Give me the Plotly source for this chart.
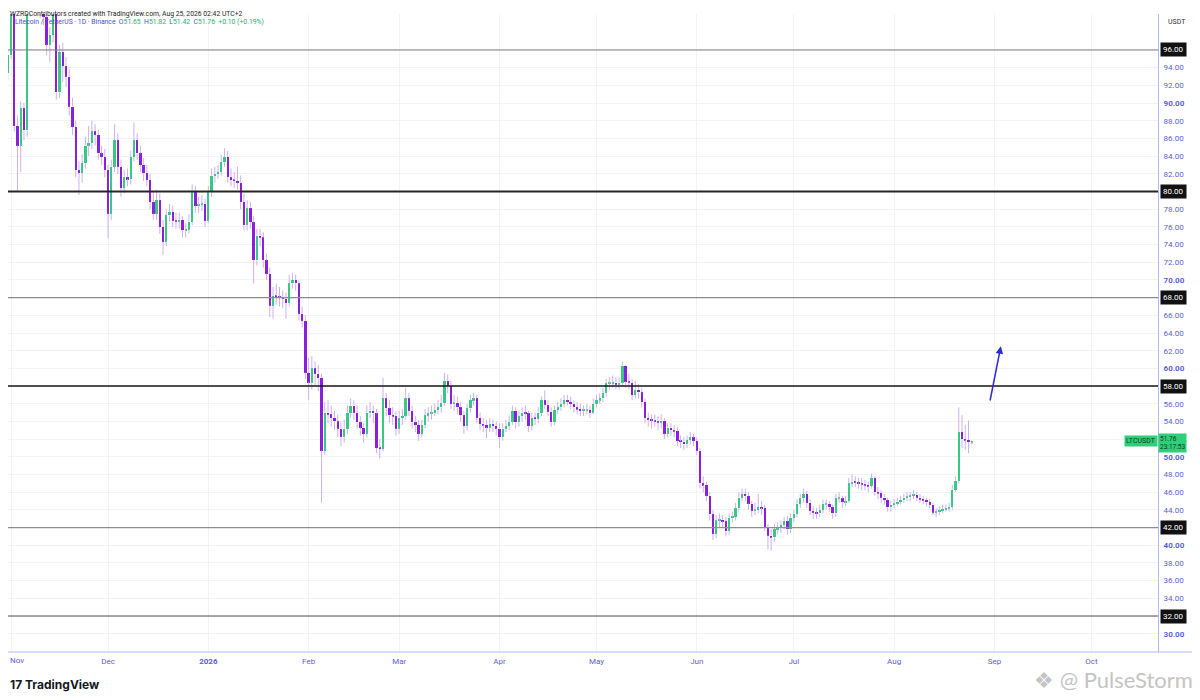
import pandas as pd
import plotly.graph_objects as go

# LTC/USDT daily candles (Oct 31 2025 -> Aug 25 2026)
start_date = "2025-10-31"

opens = [
    93.4,
    # Nov
    95.4, 100.6, 87.4, 85.2, 89.4, 86.9, 100.8, 103.2, 104.4, 102.0,
    101.2, 99.7, 96.6, 97.7, 100.6, 91.2, 95.8, 94.2, 93.0, 89.6,
    87.3, 82.4, 82.1, 83.2, 85.2, 85.5, 86.8, 86.4, 84.3, 83.9,
    # Dec
    82.4, 77.5, 82.8, 85.8, 82.8, 80.4, 81.6, 81.4, 83.9, 85.8,
    84.3, 83.0, 82.1, 81.3, 78.8, 77.5, 79.0, 76.0, 74.3, 77.3,
    77.7, 76.7, 76.6, 76.8, 75.6, 75.7, 76.6, 80.1, 78.4, 78.5, 78.6,
    # Jan
    76.7, 79.9, 81.8, 82.0, 82.2, 83.3, 83.9, 81.6, 81.3, 81.2,
    81.0, 78.8, 76.2, 78.1, 76.5, 72.2, 75.0, 74.8, 72.2, 70.7,
    67.1, 68.2, 68.1, 68.0, 67.9, 67.4, 69.6, 70.0, 69.6, 66.2, 65.4,
    # Feb
    59.5, 58.4, 60.0, 59.4, 58.9, 50.7, 55.0, 54.8, 54.4, 54.0,
    53.2, 52.2, 53.2, 55.0, 55.8, 55.0, 53.9, 53.3, 52.6, 55.0,
    55.2, 54.9, 51.0, 50.9, 56.6, 55.5, 54.7, 54.6,
    # Mar
    53.2, 54.4, 54.6, 56.6, 55.2, 53.9, 53.6, 52.6, 53.6, 54.7,
    54.9, 55.0, 55.3, 55.6, 56.1, 58.6, 58.0, 56.0, 56.1, 55.6,
    54.7, 53.5, 55.5, 56.4, 56.6, 54.4, 53.7, 53.6, 53.3, 53.7, 53.5,
    # Apr
    53.2, 52.2, 53.2, 53.5, 53.9, 55.2, 53.9, 54.6, 55.0, 54.9,
    53.5, 54.4, 54.3, 55.0, 56.4, 55.9, 55.1, 53.9, 55.3, 55.6,
    56.0, 56.4, 56.2, 56.0, 55.6, 55.4, 55.2, 55.3, 55.3, 55.0,
    # May
    56.0, 56.4, 56.6, 57.2, 58.3, 58.3, 58.4, 58.2, 58.4, 60.3,
    58.5, 58.4, 57.0, 57.6, 57.3, 56.2, 54.4, 54.2, 54.1, 54.0,
    53.9, 54.1, 52.6, 53.3, 53.0, 52.9, 51.8, 51.7, 51.4, 51.9, 52.2,
    # Jun
    51.8, 50.7, 47.0, 46.8, 45.6, 43.5, 41.3, 42.8, 42.9, 42.7,
    41.6, 43.1, 43.2, 44.2, 45.4, 45.8, 45.6, 44.7, 43.9, 44.0,
    44.3, 44.2, 42.0, 41.1, 40.9, 41.8, 41.9, 42.3, 42.7, 41.8,
    # Jul
    43.1, 43.5, 44.7, 45.3, 45.8, 44.8, 43.9, 43.7, 43.6, 44.0,
    44.7, 44.7, 44.3, 43.6, 45.3, 45.3, 44.9, 45.0, 47.0, 47.2,
    47.1, 47.0, 46.9, 46.8, 46.7, 47.6, 46.0, 45.9, 45.4, 45.1, 44.3,
    # Aug
    44.6, 44.7, 44.9, 45.1, 45.4, 45.5, 45.6, 45.7, 45.4, 45.2,
    45.1, 44.9, 44.6, 43.7, 43.8, 43.9, 44.1, 44.2, 44.3, 46.3,
    47.3, 52.8, 52.0, 51.9, 51.65,
]

highs = [
    96.0,
    # Nov
    101.5, 101.8, 88.6, 90.2, 90.0, 101.6, 104.6, 106.0, 105.0, 103.0,
    101.8, 100.4, 98.6, 101.2, 101.0, 96.6, 96.8, 95.2, 93.8, 90.6,
    88.0, 83.4, 84.2, 86.2, 87.4, 88.0, 87.6, 87.0, 85.2, 84.8,
    # Dec
    83.0, 83.6, 87.6, 86.6, 83.6, 82.4, 82.6, 84.6, 87.8, 86.6,
    85.2, 83.8, 83.0, 82.0, 80.0, 80.2, 79.8, 76.8, 78.0, 78.6,
    78.4, 77.6, 77.6, 77.2, 76.4, 77.4, 80.8, 80.6, 79.4, 79.6, 79.2,
    # Jan
    80.6, 82.6, 82.8, 83.0, 84.2, 84.9, 84.6, 82.6, 82.2, 82.8,
    81.8, 79.8, 79.0, 78.8, 77.2, 75.8, 75.8, 75.4, 73.0, 71.4,
    69.2, 69.6, 69.2, 68.8, 68.6, 70.6, 70.8, 70.6, 70.0, 67.0, 66.0,
    # Feb
    61.2, 61.4, 60.8, 60.4, 59.4, 56.2, 56.4, 55.8, 55.2, 54.8,
    54.0, 54.2, 55.8, 56.6, 56.4, 55.8, 54.6, 53.8, 55.8, 56.2,
    55.8, 55.4, 52.0, 58.9, 57.2, 56.4, 55.6, 55.2,
    # Mar
    55.2, 55.4, 57.8, 57.2, 55.8, 54.6, 54.2, 54.2, 55.4, 55.6,
    55.8, 56.0, 56.4, 57.0, 59.5, 59.3, 58.6, 57.0, 56.8, 56.2,
    55.2, 56.0, 57.0, 57.2, 57.0, 55.0, 54.4, 54.2, 54.4, 54.2, 54.0,
    # Apr
    53.8, 53.8, 54.2, 54.6, 55.8, 55.6, 55.2, 55.6, 55.8, 55.2,
    55.0, 55.0, 55.6, 56.8, 57.5, 56.4, 55.6, 55.8, 56.2, 56.6,
    57.0, 57.0, 56.8, 56.4, 56.2, 56.0, 55.8, 56.0, 55.8, 56.6,
    # May
    57.0, 57.2, 57.8, 58.8, 59.0, 59.2, 59.0, 59.0, 60.7, 60.4,
    59.4, 58.8, 58.6, 58.2, 57.8, 56.6, 55.0, 54.8, 54.8, 54.6,
    54.8, 54.4, 53.8, 53.8, 53.6, 53.4, 52.4, 52.2, 52.4, 52.8, 52.6,
    # Jun
    52.2, 51.0, 47.8, 47.2, 46.0, 44.0, 43.4, 43.6, 43.4, 43.2,
    43.6, 43.8, 44.8, 46.0, 46.4, 46.4, 46.0, 45.0, 44.8, 45.8,
    45.0, 44.6, 42.4, 41.8, 42.4, 42.6, 42.8, 43.2, 43.3, 43.6,
    # Jul
    44.0, 45.2, 45.8, 46.4, 46.2, 45.2, 44.4, 44.2, 44.6, 45.2,
    45.2, 45.0, 44.6, 45.8, 46.0, 45.6, 45.6, 47.6, 48.0, 47.8,
    47.6, 47.6, 47.4, 47.2, 48.1, 47.8, 46.6, 46.2, 45.8, 45.4, 45.0,
    # Aug
    45.2, 45.4, 45.6, 45.8, 46.0, 46.0, 46.2, 46.0, 45.8, 45.6,
    45.4, 45.2, 44.8, 44.2, 44.4, 44.6, 44.6, 44.8, 46.8, 47.8,
    55.6, 54.7, 53.6, 54.1, 51.82,
]

lows = [
    92.6,
    # Nov
    95.0, 86.8, 80.0, 82.2, 85.8, 86.2, 99.8, 102.0, 101.0, 99.6,
    98.8, 95.4, 94.6, 96.9, 90.4, 90.6, 92.4, 91.8, 88.6, 86.4,
    81.6, 79.6, 81.0, 82.6, 84.0, 84.8, 85.2, 83.6, 83.0, 81.6,
    # Dec
    74.7, 76.8, 82.2, 82.0, 79.4, 79.8, 80.6, 80.8, 83.4, 83.6,
    82.2, 81.2, 80.6, 78.0, 76.8, 76.8, 75.2, 72.8, 73.8, 76.6,
    76.0, 75.8, 75.8, 74.8, 74.8, 75.2, 76.2, 77.6, 77.6, 77.8, 76.0,
    # Jan
    76.4, 79.4, 81.0, 81.4, 81.8, 82.8, 81.0, 80.6, 80.4, 80.2,
    78.0, 75.6, 75.6, 75.8, 69.6, 71.6, 73.8, 71.4, 70.0, 65.8,
    65.6, 67.2, 67.0, 66.8, 65.6, 67.0, 69.0, 68.8, 65.4, 64.6, 58.8,
    # Feb
    56.4, 57.6, 58.0, 57.4, 44.8, 50.2, 53.8, 53.4, 53.0, 52.2,
    51.2, 51.6, 52.6, 54.4, 54.2, 53.2, 52.4, 51.6, 52.2, 54.4,
    53.8, 50.4, 49.8, 50.6, 54.6, 53.8, 53.6, 52.4,
    # Mar
    52.6, 53.6, 54.2, 54.6, 53.2, 52.8, 51.8, 52.2, 53.2, 54.0,
    54.2, 54.6, 54.8, 55.0, 55.8, 57.2, 55.4, 55.2, 54.8, 54.0,
    52.6, 53.0, 55.0, 55.8, 53.8, 53.0, 52.8, 52.1, 52.8, 52.8, 52.4,
    # Apr
    51.0, 51.8, 52.8, 53.0, 53.6, 53.2, 53.4, 54.0, 54.2, 52.8,
    53.0, 53.6, 53.8, 54.6, 55.4, 54.6, 53.4, 53.6, 54.8, 55.2,
    55.6, 55.8, 55.4, 55.0, 54.8, 54.6, 54.6, 54.8, 54.4, 54.8,
    # May
    55.6, 56.0, 56.2, 56.8, 57.6, 57.8, 57.6, 57.6, 58.0, 57.8,
    57.6, 56.4, 56.6, 56.6, 55.6, 53.8, 53.4, 53.2, 53.4, 53.0,
    53.2, 52.0, 52.2, 52.4, 52.2, 51.2, 51.0, 50.8, 51.0, 51.4, 51.2,
    # Jun
    50.2, 46.4, 46.0, 45.0, 42.8, 40.6, 40.8, 42.0, 42.0, 41.0,
    41.2, 42.6, 42.8, 43.8, 45.0, 45.0, 44.0, 43.2, 43.4, 43.6,
    43.4, 41.6, 39.5, 39.4, 40.4, 41.2, 41.4, 41.8, 41.2, 41.4,
    # Jul
    42.6, 43.2, 44.2, 44.8, 44.2, 43.4, 43.0, 43.0, 43.2, 43.6,
    44.0, 43.8, 43.0, 43.2, 44.8, 44.2, 44.4, 44.8, 46.6, 46.6,
    46.4, 46.2, 46.2, 46.0, 46.4, 45.6, 45.2, 44.8, 44.6, 43.8, 43.8,
    # Aug
    44.2, 44.4, 44.6, 44.8, 45.0, 45.0, 45.2, 45.0, 44.8, 44.6,
    44.4, 44.2, 43.4, 43.2, 43.4, 43.6, 43.8, 43.8, 44.0, 46.0,
    47.0, 51.0, 50.8, 50.4, 51.42,
]

closes = [
    95.4,
    # Nov
    100.6, 87.4, 85.2, 89.4, 86.9, 100.8, 103.2, 104.4, 102.0, 101.2,
    99.7, 96.6, 97.7, 100.6, 91.2, 95.8, 94.2, 93.0, 89.6, 87.3,
    82.4, 82.1, 83.2, 85.2, 85.5, 86.8, 86.4, 84.3, 83.9, 82.4,
    # Dec
    77.5, 82.8, 85.8, 82.8, 80.4, 81.6, 81.4, 83.9, 85.8, 84.3,
    83.0, 82.1, 81.3, 78.8, 77.5, 79.0, 76.0, 74.3, 77.3, 77.7,
    76.7, 76.6, 76.8, 75.6, 75.7, 76.6, 80.1, 78.4, 78.5, 78.6, 76.7,
    # Jan
    79.9, 81.8, 82.0, 82.2, 83.3, 83.9, 81.6, 81.3, 81.2, 81.0,
    78.8, 76.2, 78.1, 76.5, 72.2, 75.0, 74.8, 72.2, 70.7, 67.1,
    68.2, 68.1, 68.0, 67.9, 67.4, 69.6, 70.0, 69.6, 66.2, 65.4, 59.5,
    # Feb
    58.4, 60.0, 59.4, 58.9, 50.7, 55.0, 54.8, 54.4, 54.0, 53.2,
    52.2, 53.2, 55.0, 55.8, 55.0, 53.9, 53.3, 52.6, 55.0, 55.2,
    54.9, 51.0, 50.9, 56.6, 55.5, 54.7, 54.6, 53.2,
    # Mar
    54.4, 54.6, 56.6, 55.2, 53.9, 53.6, 52.6, 53.6, 54.7, 54.9,
    55.0, 55.3, 55.6, 56.1, 58.6, 58.0, 56.0, 56.1, 55.6, 54.7,
    53.5, 55.5, 56.4, 56.6, 54.4, 53.7, 53.6, 53.3, 53.7, 53.5, 53.2,
    # Apr
    52.2, 53.2, 53.5, 53.9, 55.2, 53.9, 54.6, 55.0, 54.9, 53.5,
    54.4, 54.3, 55.0, 56.4, 55.9, 55.1, 53.9, 55.3, 55.6, 56.0,
    56.4, 56.2, 56.0, 55.6, 55.4, 55.2, 55.3, 55.3, 55.0, 56.0,
    # May
    56.4, 56.6, 57.2, 58.3, 58.3, 58.4, 58.2, 58.4, 60.3, 58.5,
    58.4, 57.0, 57.6, 57.3, 56.2, 54.4, 54.2, 54.1, 54.0, 53.9,
    54.1, 52.6, 53.3, 53.0, 52.9, 51.8, 51.7, 51.4, 51.9, 52.2, 51.8,
    # Jun
    50.7, 47.0, 46.8, 45.6, 43.5, 41.3, 42.8, 42.9, 42.7, 41.6,
    43.1, 43.2, 44.2, 45.4, 45.8, 45.6, 44.7, 43.9, 44.0, 44.3,
    44.2, 42.0, 41.1, 40.9, 41.8, 41.9, 42.3, 42.7, 41.8, 43.1,
    # Jul
    43.5, 44.7, 45.3, 45.8, 44.8, 43.9, 43.7, 43.6, 44.0, 44.7,
    44.7, 44.3, 43.6, 45.3, 45.3, 44.9, 45.0, 47.0, 47.2, 47.1,
    47.0, 46.9, 46.8, 46.7, 47.6, 46.0, 45.9, 45.4, 45.1, 44.3, 44.6,
    # Aug
    44.7, 44.9, 45.1, 45.4, 45.5, 45.6, 45.7, 45.4, 45.2, 45.1,
    44.9, 44.6, 43.7, 43.8, 43.9, 44.1, 44.2, 44.3, 46.3, 47.3,
    52.8, 52.0, 51.9, 51.66, 51.76,
]

# horizontal levels drawn on the chart
levels = [96, 80, 68, 58, 42, 32]

month_ticks = ["2025-11-01", "2025-12-01", "2026-01-01", "2026-02-01", "2026-03-01",
               "2026-04-01", "2026-05-01", "2026-06-01", "2026-07-01", "2026-08-01",
               "2026-09-01", "2026-10-01"]
month_labels = ["Nov", "Dec", "<b>2026</b>", "Feb", "Mar", "Apr", "May", "Jun",
                "Jul", "Aug", "Sep", "Oct"]
price_ticks = list(range(30, 98, 2))

assert len(opens) == len(highs) == len(lows) == len(closes)

# styling
UP = "#35c981"
DOWN = "#8a1fe0"
WICK = "#cdb0ee"
AXIS_TXT = "#5a5fd6"
GRID = "#f2f2f7"
TAG = "#2ecf78"
level_style = {96: ("#7d7d7d", 1), 80: ("#262626", 2), 68: ("#8a8a8a", 1.3),
               58: ("#161616", 1.6), 42: ("#8e8e8e", 1.3), 32: ("#505050", 1)}

dates = pd.date_range(start_date, periods=len(closes), freq="D")

# wicks: only the parts outside the body
wick_x, wick_y = [], []
body_base, body_len, body_col = [], [], []
for d, o, h, l, c in zip(dates, opens, highs, lows, closes):
    top, bot = max(o, c), min(o, c)
    wick_x += [d, d, None, d, d, None]
    wick_y += [l, bot, None, top, h, None]
    size = max(top - bot, 0.12)
    body_base.append((top + bot) / 2 - size / 2)
    body_len.append(size)
    body_col.append(UP if c >= o else DOWN)

fig = go.Figure()
fig.add_trace(go.Scatter(x=wick_x, y=wick_y, mode="lines",
                         line=dict(color=WICK, width=1), hoverinfo="skip"))
fig.add_trace(go.Bar(x=dates, y=body_len, base=body_base,
                     marker=dict(color=body_col, line=dict(width=0)),
                     width=0.72 * 86400000))

for lv in levels:
    col, w = level_style[lv]
    fig.add_shape(type="line", xref="paper", x0=0, x1=1, yref="y", y0=lv, y1=lv,
                  line=dict(color=col, width=w), layer="above")
    fig.add_annotation(xref="paper", x=1.0, xanchor="left", yref="y", y=lv,
                       text=f"{lv:.2f}", showarrow=False, bgcolor="#111111",
                       font=dict(color="white", size=8), borderpad=2, xshift=2)

# drawn arrow
fig.add_annotation(x="2026-09-03 00:00", y=62.5, ax="2026-08-30 14:00", ay=56.2,
                   xref="x", yref="y", axref="x", ayref="y", showarrow=True,
                   arrowhead=2, arrowsize=1, arrowwidth=1.5, arrowcolor="#2a2ad2", text="")

# price tag of the last close
last_close = closes[-1]
fig.add_annotation(xref="paper", x=1.0, xanchor="right", yref="y", y=last_close,
                   text="LTCUSDT", showarrow=False, bgcolor=TAG,
                   font=dict(color="#0f3a22", size=7), borderpad=1)
fig.add_annotation(xref="paper", x=1.0, xanchor="left", yref="y", y=last_close - 0.2,
                   text=f"{last_close:.2f}<br>23:17:53", showarrow=False, bgcolor=TAG,
                   font=dict(color="#0f3a22", size=6.5), align="left", borderpad=1)

# header texts
fig.add_annotation(xref="paper", yref="paper", x=0, y=1.0094, xanchor="left", yanchor="top",
                   text="WZRDContributors created with TradingView.com, Aug 25, 2026 02:42 UTC+2",
                   showarrow=False, font=dict(color="#1e1e24", size=6.8))
chg = closes[-1] - closes[-2]
g = "#22b06a"
legend = (f"Litecoin / TetherUS · 1D · Binance  "
          f"O<span style='color:{g}'>{opens[-1]:.2f}</span>  "
          f"H<span style='color:{g}'>{highs[-1]:.2f}</span>  "
          f"L<span style='color:{g}'>{lows[-1]:.2f}</span>  "
          f"C<span style='color:{g}'>{closes[-1]:.2f}</span>  "
          f"<span style='color:{g}'>+{chg:.2f} (+{chg / closes[-2] * 100:.2f}%)</span>")
fig.add_annotation(xref="paper", yref="paper", x=0.004, y=0.9875, xanchor="left", yanchor="middle",
                   text=legend, showarrow=False, font=dict(color="#4a4fd4", size=6.8))
fig.add_annotation(xref="paper", yref="paper", x=1.0, y=0.9875, xanchor="left", yanchor="middle",
                   text="USDT", showarrow=False, xshift=8, font=dict(color="#333", size=7))

# first month label sits right at the left edge
fig.add_annotation(xref="paper", yref="paper", x=0, y=0, xanchor="left", yanchor="top",
                   text="Nov", showarrow=False, yshift=-2,
                   font=dict(color=AXIS_TXT, size=8))

# footer: logo and watermark
fig.add_annotation(xref="paper", yref="paper", x=0, y=-0.0517, xanchor="left", yanchor="middle",
                   text="<b>17 TradingView</b>", showarrow=False,
                   font=dict(color="#131722", size=12, family="Inter, Roboto"))
fig.add_annotation(xref="paper", yref="paper", x=1.032, y=-0.0425, xanchor="right", yanchor="middle",
                   text="❖ @ PulseStorm", showarrow=False,
                   font=dict(color="#c4c4c4", size=22, family="Lato, Noto Sans"))

# bottom axis line across the whole width
fig.add_shape(type="line", xref="paper", x0=0, x1=1.0365, yref="paper", y0=0, y1=0,
              line=dict(color="#b5b7ee", width=1))

# the page puts the figure 8px in from the top-left, so the figure is 8px smaller
fig.update_layout(
    width=1192, height=692,
    margin=dict(l=0, r=42, t=6, b=48),
    paper_bgcolor="white", plot_bgcolor="white",
    showlegend=False, barmode="overlay", bargap=0,
    font=dict(family="Roboto, Arial", size=8, color=AXIS_TXT),
    xaxis=dict(type="date", range=["2025-10-31 01:40", "2026-10-21 14:00"],
               tickvals=month_ticks, ticktext=month_labels, ticks="",
               ticklabelstandoff=3,
               showgrid=True, gridcolor=GRID, gridwidth=1, zeroline=False,
               showline=False, tickfont=dict(size=8, color=AXIS_TXT)),
    yaxis=dict(side="right", range=[27.93, 100.07],
               tickvals=price_ticks,
               # labels under the level boxes and the price tag stay hidden
               ticktext=["" if v in levels or v == 52
                         else (f"<b>{v:.2f}</b>" if v % 10 == 0 else f"{v:.2f}")
                         for v in price_ticks],
               ticks="", ticklabelstandoff=3, showgrid=True, gridcolor=GRID, gridwidth=1,
               zeroline=False, showline=True, linecolor="#b5b7ee", linewidth=1,
               tickfont=dict(size=8, color=AXIS_TXT)),
)

fig.write_html("out.html")
